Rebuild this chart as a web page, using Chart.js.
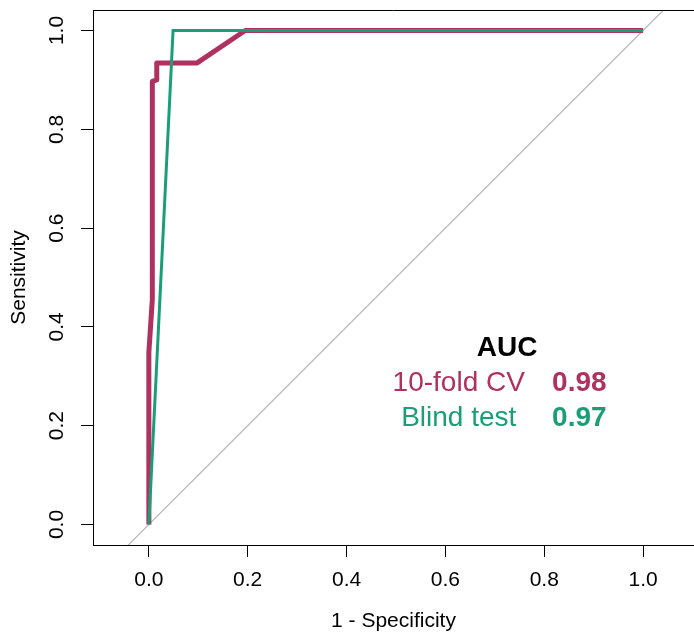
<!DOCTYPE html>
<html>
<head>
<meta charset="utf-8">
<script src="https://cdn.jsdelivr.net/npm/chart.js@4.4.1/dist/chart.umd.min.js"></script>
<style>
  body { margin: 0; background: #fff; }
</style>
</head>
<body>
<canvas id="rocChart" width="694" height="636"></canvas>
<script>
// ROC curve points (1 - specificity, sensitivity)
const cvFpr = [0, 0, 0.007, 0.007, 0.016, 0.016, 0.097, 0.195, 1.0];
const cvTpr = [0, 0.348, 0.455, 0.897, 0.90, 0.934, 0.934, 1.0, 1.0];
const blindFpr = [0, 0.049, 1.0];
const blindTpr = [0, 1.0, 1.0];
const diagLine = [-0.2, 1.2];  // y = x reference line

const tickValues = [0, 0.2, 0.4, 0.6, 0.8, 1.0];

const aucLabels = ['10-fold CV', 'Blind test'];
const aucValues = ['0.98', '0.97'];

const maroon = '#B03060';
const green = '#1B9E77';
const fontFamily = "'Liberation Sans', Arial, sans-serif";

function toPoints(xs, ys) {
    return xs.map((x, i) => ({ x: x, y: ys[i] }));
}

// top edge of the R style box (right side is cut off in the original)
const boxPlugin = {
    id: 'box',
    afterDraw(chart) {
        const { ctx, chartArea } = chart;
        ctx.save();
        ctx.strokeStyle = '#000';
        ctx.lineWidth = 1;
        ctx.beginPath();
        ctx.moveTo(chartArea.left, Math.round(chartArea.top) + 0.5);
        ctx.lineTo(chartArea.right, Math.round(chartArea.top) + 0.5);
        ctx.stroke();
        ctx.restore();
    }
};

// AUC text block, placed in data units
const aucPlugin = {
    id: 'aucText',
    afterDatasetsDraw(chart) {
        const { ctx } = chart;
        const xs = chart.scales.x, ys = chart.scales.y;
        const colors = [maroon, green];
        ctx.save();
        ctx.textAlign = 'center';
        ctx.textBaseline = 'middle';
        ctx.font = 'bold 28px ' + fontFamily;
        ctx.fillStyle = '#000';
        ctx.fillText('AUC', xs.getPixelForValue(0.725), ys.getPixelForValue(0.357));
        aucLabels.forEach((label, i) => {
            const y = ys.getPixelForValue(0.286 - i * 0.071);
            ctx.fillStyle = colors[i];
            ctx.font = '28px ' + fontFamily;
            ctx.fillText(label, xs.getPixelForValue(0.627), y);
            ctx.font = 'bold 28px ' + fontFamily;
            ctx.fillText(aucValues[i], xs.getPixelForValue(0.871), y);
        });
        ctx.restore();
    }
};

const ctx = document.getElementById('rocChart').getContext('2d');
const rocChart = new Chart(ctx, {
    type: 'scatter',
    data: {
        datasets: [
            {
                label: 'Blind test',
                data: toPoints(blindFpr, blindTpr),
                showLine: true,
                borderColor: green,
                borderWidth: 3,
                pointRadius: 0,
                order: 0
            },
            {
                label: '10-fold CV',
                data: toPoints(cvFpr, cvTpr),
                showLine: true,
                borderColor: maroon,
                borderWidth: 5,
                borderJoinStyle: 'round',
                pointRadius: 0,
                order: 1
            },
            {
                label: 'diagonal',
                data: toPoints(diagLine, diagLine),
                showLine: true,
                borderColor: '#B4B4B4',
                borderWidth: 1.2,
                pointRadius: 0,
                order: 2
            }
        ]
    },
    options: {
        responsive: false,
        animation: false,
        layout: { padding: { top: 10, right: 0, bottom: 0, left: 0 } },
        plugins: {
            legend: { display: false },
            tooltip: { enabled: false }
        },
        scales: {
            x: {
                type: 'linear',
                min: -0.113,
                max: 1.103,
                afterBuildTicks: (scale) => { scale.ticks = tickValues.map(v => ({ value: v })); },
                afterFit: (scale) => {
                    scale.height = 91;
                    scale.paddingLeft = 0;
                    scale.paddingRight = 0;
                },
                grid: { drawOnChartArea: false, drawTicks: true, tickLength: 12, color: '#000' },
                border: { display: true, color: '#000', width: 1 },
                ticks: {
                    padding: 11,
                    color: '#000',
                    font: { family: fontFamily, size: 21 },
                    callback: (v) => Number(v).toFixed(1)
                },
                title: {
                    display: true,
                    text: '1 - Specificity',
                    color: '#000',
                    font: { family: fontFamily, size: 21 },
                    padding: { top: 0, bottom: 2 }
                }
            },
            y: {
                type: 'linear',
                min: -0.0415,
                max: 1.0415,
                afterBuildTicks: (scale) => { scale.ticks = tickValues.map(v => ({ value: v })); },
                afterFit: (scale) => {
                    scale.width = 93;
                    scale.paddingTop = 0;
                    scale.paddingBottom = 0;
                },
                grid: { drawOnChartArea: false, drawTicks: true, tickLength: 12, color: '#000' },
                border: { display: true, color: '#000', width: 1 },
                ticks: {
                    padding: 9,
                    minRotation: 90,
                    maxRotation: 90,
                    crossAlign: 'center',
                    color: '#000',
                    font: { family: fontFamily, size: 21 },
                    callback: (v) => Number(v).toFixed(1)
                },
                title: {
                    display: true,
                    text: 'Sensitivity',
                    color: '#000',
                    font: { family: fontFamily, size: 21 },
                    padding: { top: 7, bottom: 0 }
                }
            }
        }
    },
    plugins: [boxPlugin, aucPlugin]
});
</script>
</body>
</html>
